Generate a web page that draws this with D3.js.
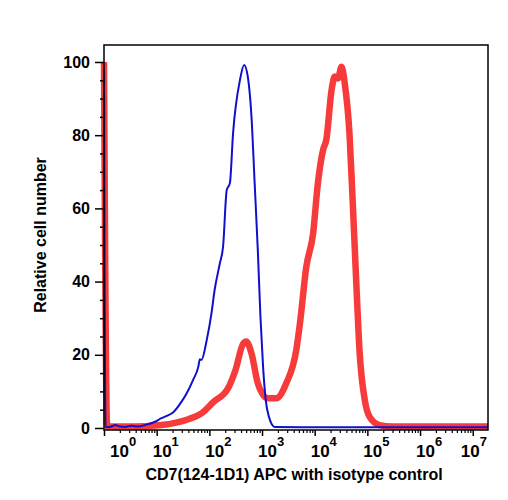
<!DOCTYPE html>
<html>
<head>
<meta charset="utf-8">
<script src="https://cdn.jsdelivr.net/npm/d3@7"></script>
<style>
  html, body { margin: 0; padding: 0; background: #fff; }
  svg { display: block; font-family: "Liberation Sans", Arial, Helvetica, sans-serif; }
</style>
</head>
<body>
<svg id="chart" width="508" height="500"></svg>
<script>
// ---- data (x as log10 of fluorescence, y as relative cell number) ----
const blueLogX = [0, 0.03, 0.11, 0.22, 0.30, 0.40, 0.525, 0.65, 0.78, 0.97, 1.08, 1.19, 1.31, 1.44, 1.57, 1.69, 1.79, 1.82, 1.85, 1.95, 2.04, 2.10, 2.20, 2.26, 2.33, 2.39, 2.45, 2.58, 2.66, 2.73, 2.80, 2.86, 2.92, 2.97, 3.02, 3.07, 3.13, 3.24, 4.0, 5.0, 6.0, 7.29];
const blueY    = [98, 0.3, 0.3, 0.8, 0.4, 0.3, 0.6, 0.4, 0.8, 1.7, 2.6, 3.3, 4.2, 6.5, 9.5, 13.1, 16.7, 18.8, 18.6, 24, 31.3, 37.7, 45, 49.5, 65, 66.9, 80.5, 95, 99.2, 96, 85, 66.9, 48.6, 30.4, 16.7, 7.7, 3.1, 0.3, 0.2, 0.2, 0.2, 0.2];
const redLogX  = [0, 0.06, 0.46, 0.78, 1.09, 1.35, 1.60, 1.85, 2.07, 2.36, 2.50, 2.64, 2.70, 2.80, 2.92, 3.00, 3.11, 3.27, 3.46, 3.65, 3.72, 3.84, 3.97, 4.06, 4.16, 4.22, 4.32, 4.38, 4.44, 4.51, 4.57, 4.66, 4.72, 4.79, 4.85, 4.95, 5.04, 5.23, 5.48, 6.5, 7.29];
const redY     = [100, 0.4, 0.4, 0.5, 0.8, 1.4, 2.4, 4, 7, 11, 16, 23, 23.6, 20.4, 12.2, 9.5, 8.1, 8.1, 12.2, 21.3, 28.6, 44, 53.2, 66.8, 76, 78.7, 92.3, 96, 95.5, 98.7, 94.2, 80.5, 62.3, 39.5, 21.3, 7.7, 3.1, 0.8, 0.4, 0.4, 0.4];
const xTickExponents = [0, 1, 2, 3, 4, 5, 6, 7];
const yMajorTicks = [0, 20, 40, 60, 80, 100];
const xTitle = "CD7(124-1D1) APC with isotype control";
const yTitle = "Relative cell number";

// ---- layout ----
const plot = { left: 104, right: 488, top: 45, bottom: 430 };
const svg = d3.select("#chart");

const x = d3.scaleLog().domain([1, Math.pow(10, 7.29)]).range([plot.left, plot.right]);
const y = d3.scaleLinear().domain([-0.55, 104.64]).range([plot.bottom, plot.top]);

const toPts = (lx, ys) => lx.map((v, i) => [Math.pow(10, v), ys[i]]);
const line = d3.line().x(d => x(d[0])).y(d => y(d[1])).curveMonotoneX ? null : null;
const smooth = d3.line().x(d => x(d[0])).y(d => y(d[1])).curve(d3.curveMonotoneX);

// red (sample) thick line
svg.append("path")
  .datum(toPts(redLogX, redY))
  .attr("d", smooth)
  .attr("fill", "none")
  .attr("stroke", "#f73a3a")
  .attr("stroke-width", 6.5)
  .attr("stroke-linejoin", "round")
  .attr("stroke-linecap", "butt");

// blue (isotype) thin line
svg.append("path")
  .datum(toPts(blueLogX, blueY))
  .attr("d", smooth)
  .attr("fill", "none")
  .attr("stroke", "#1010cc")
  .attr("stroke-width", 2)
  .attr("stroke-linejoin", "round");

// frame
svg.append("rect")
  .attr("x", plot.left).attr("y", plot.top)
  .attr("width", plot.right - plot.left).attr("height", plot.bottom - plot.top)
  .attr("fill", "none").attr("stroke", "#000").attr("stroke-width", 1.5);

// y axis: minor ticks
const yMinor = d3.range(0, 101, 5).filter(v => !yMajorTicks.includes(v));
svg.append("g")
  .attr("transform", `translate(${plot.left},0)`)
  .call(d3.axisLeft(y).tickValues(yMinor).tickSize(4).tickFormat(""))
  .call(g => g.select(".domain").remove())
  .call(g => g.selectAll("line").attr("stroke-width", 1.5));
// y axis: major ticks
svg.append("g")
  .attr("transform", `translate(${plot.left},0)`)
  .call(d3.axisLeft(y).tickValues(yMajorTicks).tickSize(9).tickPadding(5).tickFormat(d3.format("d")))
  .call(g => g.select(".domain").remove())
  .call(g => g.selectAll("line").attr("stroke-width", 1.5))
  .call(g => g.selectAll("text")
      .attr("font-size", 16).attr("font-weight", "bold")
      .attr("font-family", "'Liberation Sans', Arial, sans-serif")
      .attr("fill", "#000"));

// x axis: minor ticks
const xMinor = [];
xTickExponents.forEach(e => { for (let k = 2; k <= 9; k++) { const v = k * Math.pow(10, e); if (v <= x.domain()[1]) xMinor.push(v); } });
svg.append("g")
  .attr("transform", `translate(0,${plot.bottom})`)
  .call(d3.axisBottom(x).tickValues(xMinor).tickSize(3).tickFormat(""))
  .call(g => g.select(".domain").remove())
  .call(g => g.selectAll("line").attr("stroke-width", 1.2));
// x axis: major ticks
const xMajorVals = xTickExponents.map(e => Math.pow(10, e));
svg.append("g")
  .attr("transform", `translate(0,${plot.bottom})`)
  .call(d3.axisBottom(x).tickValues(xMajorVals).tickSize(6).tickFormat(""))
  .call(g => g.select(".domain").remove())
  .call(g => g.selectAll("line").attr("stroke-width", 1.5));

// x tick labels: 10 with superscript exponent
const labG = svg.append("g").attr("font-weight", "bold").attr("fill", "#000");
xTickExponents.forEach(e => {
  const t = labG.append("text").attr("y", 457).attr("font-size", 17);
  t.append("tspan").text("10");
  t.append("tspan").attr("font-size", 13).attr("dy", -11).text(String(e));
  const w = t.node().getComputedTextLength();
  let sx = x(Math.pow(10, e)) - 4;
  sx = Math.max(sx, plot.left + 6);
  sx = Math.min(sx, plot.right - 1 - w);
  t.attr("x", sx);
});

// titles
svg.append("text")
  .attr("x", (plot.left + plot.right) / 2 - 2).attr("y", 480)
  .attr("text-anchor", "middle").attr("font-size", 16).attr("font-weight", "bold")
  .text(xTitle);
svg.append("text")
  .attr("transform", `translate(46,${235}) rotate(-90)`)
  .attr("text-anchor", "middle").attr("font-size", 16).attr("font-weight", "bold")
  .text(yTitle);
</script>
</body>
</html>
